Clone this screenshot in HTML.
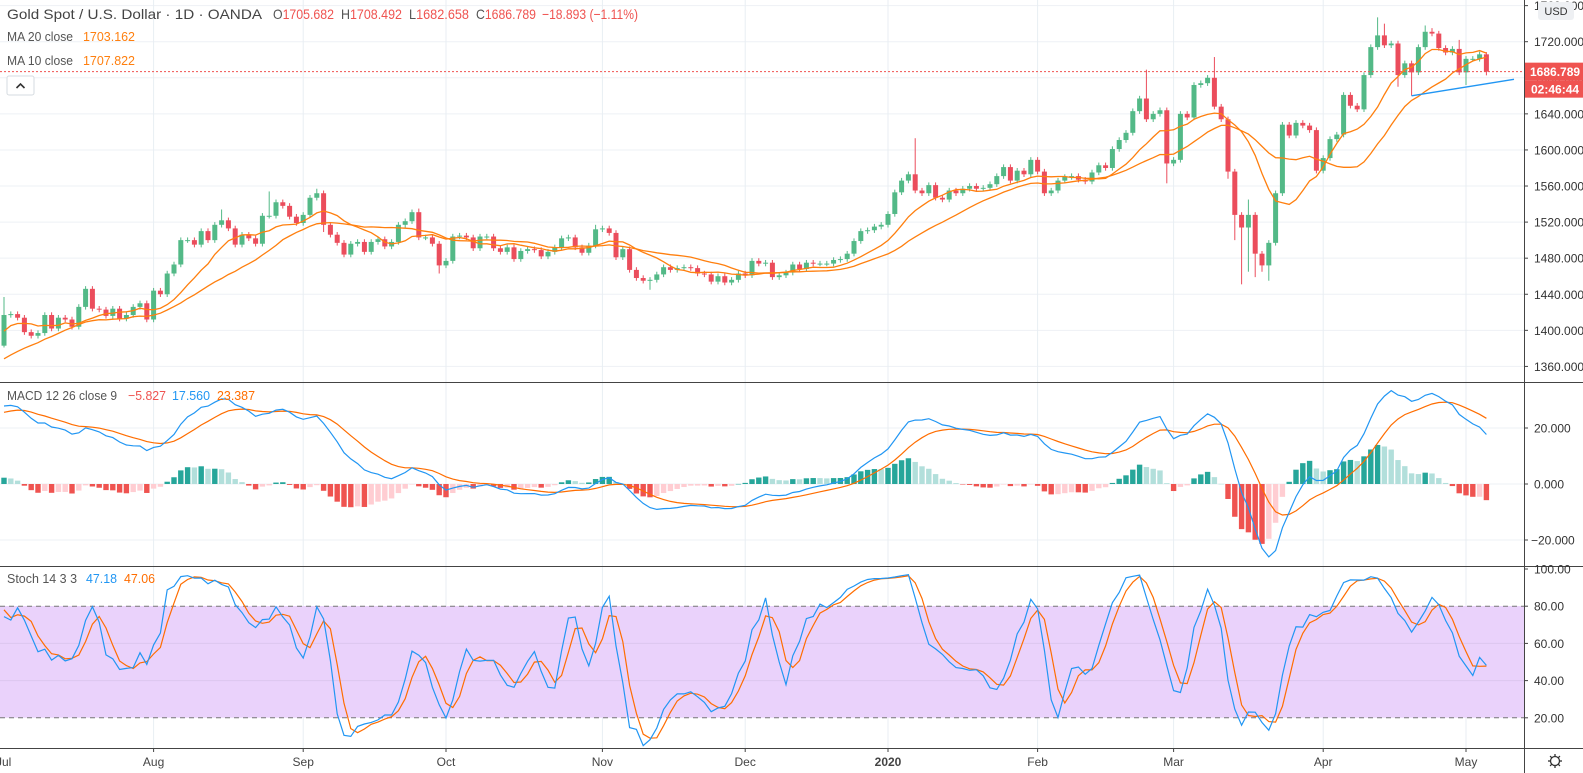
<!DOCTYPE html>
<html><head><meta charset="utf-8"><style>
html,body{margin:0;padding:0;background:#fff;}
svg{display:block;font-family:"Liberation Sans",sans-serif;}
</style></head><body>
<svg id="chart" width="1583" height="773" viewBox="0 0 1583 773" xmlns="http://www.w3.org/2000/svg">
<rect x="0" y="0" width="1583" height="773" fill="#fff"/>
<g id="grid"></g>
<rect x="0" y="606" width="1524" height="111.7" fill="#ead2fb"/>
<g id="stochGrid"></g>
<g id="candles"></g>
<g id="mas"></g>
<g id="macd"></g>
<g id="stoch"></g>
<g id="axes"></g>
<g font-size="14">
<text x="7" y="19" fill="#444" textLength="255" lengthAdjust="spacingAndGlyphs">Gold Spot / U.S. Dollar · 1D · OANDA</text>
<text x="273" y="19" fill="#555" textLength="61" lengthAdjust="spacingAndGlyphs">O<tspan fill="#ef5350">1705.682</tspan></text>
<text x="341" y="19" fill="#555" textLength="61" lengthAdjust="spacingAndGlyphs">H<tspan fill="#ef5350">1708.492</tspan></text>
<text x="409" y="19" fill="#555" textLength="60" lengthAdjust="spacingAndGlyphs">L<tspan fill="#ef5350">1682.658</tspan></text>
<text x="476" y="19" fill="#555" textLength="60" lengthAdjust="spacingAndGlyphs">C<tspan fill="#ef5350">1686.789</tspan></text>
<text x="542" y="19" fill="#ef5350" textLength="96" lengthAdjust="spacingAndGlyphs">−18.893 (−1.11%)</text>
</g>
<text x="7" y="41" font-size="13" fill="#555" textLength="66" lengthAdjust="spacingAndGlyphs">MA 20 close</text>
<text x="83" y="41" font-size="13" fill="#ff7f0e" textLength="52" lengthAdjust="spacingAndGlyphs">1703.162</text>
<text x="7" y="65" font-size="13" fill="#555" textLength="66" lengthAdjust="spacingAndGlyphs">MA 10 close</text>
<text x="83" y="65" font-size="13" fill="#ff7f0e" textLength="52" lengthAdjust="spacingAndGlyphs">1707.822</text>
<g><rect x="7" y="76" width="27" height="19" rx="2" fill="#fff" stroke="#d6dbe0"/><path d="M16.5 88 L20.5 84 L24.5 88" fill="none" stroke="#333" stroke-width="1.6"/></g>
<g font-size="13">
<text x="7" y="400" fill="#555" textLength="110" lengthAdjust="spacingAndGlyphs">MACD 12 26 close 9</text>
<text x="128" y="400" fill="#ef5350" textLength="38" lengthAdjust="spacingAndGlyphs">−5.827</text>
<text x="172" y="400" fill="#2196f3" textLength="38" lengthAdjust="spacingAndGlyphs">17.560</text>
<text x="217" y="400" fill="#ff6d00" textLength="38" lengthAdjust="spacingAndGlyphs">23.387</text>
</g>
<g font-size="13">
<text x="7" y="583" fill="#555" textLength="70" lengthAdjust="spacingAndGlyphs">Stoch 14 3 3</text>
<text x="86" y="583" fill="#2196f3" textLength="31" lengthAdjust="spacingAndGlyphs">47.18</text>
<text x="124" y="583" fill="#ff6d00" textLength="31" lengthAdjust="spacingAndGlyphs">47.06</text>
</g>
</svg>
<script>
const warm = [1284,1281,1277,1273,1279,1286,1282,1276,1274,1271,1276,1283,1279,1281,1285,1284,1288,1283,1295,1297,1296,1285,1276,1283,1283,1285,1282,1286,1295,1305,1324,1333,1335,1328,1332,1338,1339,1342,1345,1342,1344,1358,1390,1397,1400,1420,1410,1405,1410,1385];
const closes = [1417,1418,1414,1398,1394,1397,1417,1402,1414,1412,1404,1426,1446,1424,1423,1416,1424,1413,1417,1426,1430,1412,1444,1440,1463,1473,1500,1500,1495,1510,1500,1517,1522,1513,1495,1506,1502,1496,1527,1527,1542,1538,1526,1519,1528,1547,1552,1517,1506,1497,1484,1496,1498,1487,1498,1501,1493,1498,1517,1521,1531,1503,1503,1496,1472,1477,1504,1505,1503,1491,1504,1504,1491,1487,1492,1479,1488,1490,1489,1482,1487,1492,1502,1503,1492,1486,1494,1512,1513,1508,1481,1490,1467,1458,1455,1456,1462,1470,1467,1469,1470,1469,1463,1462,1454,1460,1453,1456,1463,1461,1477,1474,1475,1459,1461,1464,1473,1468,1475,1474,1474,1474,1478,1479,1485,1499,1510,1511,1515,1517,1529,1553,1566,1573,1555,1552,1561,1547,1545,1555,1552,1557,1560,1557,1558,1562,1571,1581,1566,1577,1573,1589,1576,1552,1555,1566,1570,1571,1567,1565,1575,1583,1580,1601,1611,1619,1643,1657,1634,1640,1644,1585,1589,1640,1636,1672,1674,1680,1648,1634,1576,1528,1514,1528,1485,1472,1497,1552,1628,1616,1630,1627,1622,1577,1591,1612,1617,1661,1649,1645,1683,1714,1727,1716,1718,1683,1696,1686,1714,1731,1729,1713,1708,1712,1686,1701,1701,1706,1686.789];
const firstOpen = 1383;
const highOverrides = {0:1437,32:1534,39:1554,46:1557,61:1535,87:1517,134:1613,168:1689,178:1703,183:1545,202:1747,203:1740,209:1738,210:1735,214:1722,218:1708.5};
const lowOverrides = {0:1381,47:1509,64:1463,95:1445,171:1563,180:1568,181:1500,182:1451,183:1465,184:1459,185:1465,186:1455,205:1670,207:1660,215:1672,218:1682.7};
const monthLabels = ["Aug","Sep","Oct","Nov","Dec","2020","Feb","Mar","Apr","May"];
const monthIdx = [22,44,65,88,109,130,152,172,194,215];
const priceTicks = [1360,1400,1440,1480,1520,1560,1600,1640,1680,1720,1760];
const macdTicks = [20,0,-20];
const stochTicks = [100,80,60,40,20];

const NS="http://www.w3.org/2000/svg";
function mk(tag,attrs,parent){const e=document.createElementNS(NS,tag);for(const k in attrs)e.setAttribute(k,attrs[k]);parent.appendChild(e);return e;}
const AX=1524;
const xOf=i=>4+i*6.8;
const yP=p=>41.7+(1720-p)*0.902;
const yM=v=>484-v*2.8;
const yS=v=>755-v*1.86;

const all=warm.concat(closes);
const W=warm.length;
const opensAll=all.map((c,i)=>i===0?c:all[i-1]);
opensAll[W]=firstOpen;
const hiAll=all.map((c,i)=>{const d=i-W; if(d>=0&&highOverrides[d]!==undefined)return highOverrides[d]; return Math.max(c,opensAll[i])+3;});
const loAll=all.map((c,i)=>{const d=i-W; if(d>=0&&lowOverrides[d]!==undefined)return lowOverrides[d]; return Math.min(c,opensAll[i])-3;});

const grid=document.getElementById('grid');
priceTicks.forEach(p=>{const l=mk('line',{x1:0,x2:AX,y1:yP(p),y2:yP(p),stroke:'#eef1f5','stroke-width':1},grid);

});
macdTicks.forEach(v=>{const l=mk('line',{x1:0,x2:AX,y1:yM(v),y2:yM(v),stroke:'#eef1f5'},grid);

});
monthIdx.forEach(i=>{const l=mk('line',{x1:xOf(i),x2:xOf(i),y1:0,y2:748,stroke:'#e8eef3'},grid);

});
const sg=document.getElementById('stochGrid');
[60,40].forEach(v=>{const l=mk('line',{x1:0,x2:AX,y1:yS(v),y2:yS(v),stroke:'#dcc6ee'},sg);

});
[80,20].forEach(v=>{const l=mk('line',{x1:0,x2:AX,y1:yS(v),y2:yS(v),stroke:'#777','stroke-dasharray':'5,4'},sg);

});

const cg=document.getElementById('candles');
closes.forEach((c,i)=>{const k=W+i;const o=opensAll[k];const up=c>=o;const col=up?'#53b987':'#eb4d5c';const x=xOf(i);
const w=mk('line',{x1:x,x2:x,y1:yP(hiAll[k]),y2:yP(loAll[k]),stroke:col,'stroke-width':1},cg);


const top=yP(Math.max(o,c)),bot=yP(Math.min(o,c));
const r=mk('rect',{x:x-2.5,y:top,width:5,height:Math.max(1,bot-top),fill:col},cg);

});

function sma(arr,n){return arr.map((v,i)=>{if(i<n-1)return null;let s=0;for(let j=i-n+1;j<=i;j++)s+=arr[j];return s/n;});}
const mg=document.getElementById('mas');
[[20,'ma20-line'],[10,'ma10-line']].forEach(([n,name])=>{const m=sma(all,n);let d='';closes.forEach((c,i)=>{d+=(i?'L':'M')+xOf(i).toFixed(1)+' '+yP(m[W+i]).toFixed(1);});
const p=mk('path',{d:d,fill:'none',stroke:'#ff7f0e','stroke-width':1.3},mg);

});

const pl=mk('line',{x1:0,x2:AX,y1:yP(closes[closes.length-1]),y2:yP(closes[closes.length-1]),stroke:'#ef5350','stroke-dasharray':'2,2'},mg);


const tl=mk('line',{x1:xOf(207),y1:yP(1660),x2:1514,y2:79.3,stroke:'#2196f3','stroke-width':1.3},mg);



function ema(arr,n){const a=2/(n+1);const out=[];arr.forEach((v,i)=>{out.push(i===0?v:out[i-1]+a*(v-out[i-1]));});return out;}
const e12=ema(all,12),e26=ema(all,26);
const macd=all.map((v,i)=>e12[i]-e26[i]);
const sig=ema(macd,9);
const hist=macd.map((v,i)=>v-sig[i]);
const mgp=document.getElementById('macd');
closes.forEach((c,i)=>{const k=W+i;const h=hist[k],ph=hist[k-1];let col;
if(h>=0)col=h>ph?'#26a69a':'#b2dfdb';else col=h<ph?'#ef5350':'#ffcdd2';
const y0=yM(0),y1=yM(h);
const r=mk('rect',{x:xOf(i)-2.7,y:Math.min(y0,y1),width:5.4,height:Math.max(0.5,Math.abs(y1-y0)),fill:col},mgp);

});
[[sig,'#ff6d00','macd-signal-line'],[macd,'#2196f3','macd-line']].forEach(([arr,col,name])=>{let d='';closes.forEach((c,i)=>{d+=(i?'L':'M')+xOf(i).toFixed(1)+' '+yM(arr[W+i]).toFixed(1);});
const p=mk('path',{d:d,fill:'none',stroke:col,'stroke-width':1.2},mgp);

});

const raw=all.map((c,i)=>{if(i<13)return 50;let hh=-1e9,ll=1e9;for(let j=i-13;j<=i;j++){hh=Math.max(hh,hiAll[j]);ll=Math.min(ll,loAll[j]);}return hh===ll?50:100*(c-ll)/(hh-ll);});
const kk=sma(raw,3).map(v=>v===null?50:v);
const dd=sma(kk,3).map(v=>v===null?50:v);
const sgp=document.getElementById('stoch');
[[dd,'#ff6d00','stoch-d-line'],[kk,'#2196f3','stoch-k-line']].forEach(([arr,col,name])=>{let d='';closes.forEach((c,i)=>{d+=(i?'L':'M')+xOf(i).toFixed(1)+' '+yS(arr[W+i]).toFixed(1);});
const p=mk('path',{d:d,fill:'none',stroke:col,'stroke-width':1.2},sgp);

});

const ax=document.getElementById('axes');
mk('rect',{x:AX,y:0,width:59,height:773,fill:'#fff'},ax);
mk('rect',{x:0,y:748,width:1583,height:25,fill:'#fff'},ax);
mk('line',{x1:AX+0.5,x2:AX+0.5,y1:0,y2:773,stroke:'#444'},ax);
[382,566,748].forEach(y=>{const l=mk('line',{x1:0,x2:1583,y1:y+0.5,y2:y+0.5,stroke:'#444'},ax);

});
priceTicks.forEach(p=>{const y=yP(p);if(y<0)return;mk('line',{x1:AX,x2:AX+4,y1:y,y2:y,stroke:'#444'},ax);
const t=mk('text',{x:AX+10,y:y+4.5,'font-size':12,fill:'#333'},ax);t.textContent=p.toFixed(3);

});
macdTicks.forEach(v=>{const y=yM(v);mk('line',{x1:AX,x2:AX+4,y1:y,y2:y,stroke:'#444'},ax);
const t=mk('text',{x:AX+(v<0?7:10),y:y+4.5,'font-size':12,fill:'#333'},ax);t.textContent=(v<0?'−':'')+Math.abs(v).toFixed(3);

});
stochTicks.forEach(v=>{const y=yS(v);mk('line',{x1:AX,x2:AX+4,y1:y,y2:y,stroke:'#444'},ax);
const t=mk('text',{x:AX+10,y:y+4.5,'font-size':12,fill:'#333'},ax);t.textContent=v.toFixed(2);

});
const ul=mk('text',{x:-4,y:766,'font-size':12,fill:'#444'},ax);ul.textContent='Jul';


monthIdx.forEach((idx,i)=>{const x=xOf(idx);mk('line',{x1:x,x2:x,y1:748,y2:752,stroke:'#444'},ax);
const t=mk('text',{x:x,y:766,'font-size':12,fill:'#444','text-anchor':'middle','font-weight':monthLabels[i]==='2020'?'bold':'normal'},ax);t.textContent=monthLabels[i];

});
const ly=yP(closes[closes.length-1]);
const lb=mk('rect',{x:AX+1,y:ly-9,width:58,height:18,fill:'#ef5350'},ax);


const lt=mk('text',{x:AX+6,y:ly+4.5,'font-size':12,'font-weight':'bold',fill:'#fff'},ax);lt.textContent='1686.789';


const cb=mk('rect',{x:AX+1,y:ly+9,width:58,height:17,fill:'#ef5350'},ax);


const ct=mk('text',{x:AX+7,y:ly+22,'font-size':12,'font-weight':'bold',fill:'#fff'},ax);ct.textContent='02:46:44';


const ub=mk('rect',{x:1538,y:2,width:36,height:18,rx:3,fill:'#eef0f3'},ax);


const ut=mk('text',{x:1556,y:15,'font-size':11,fill:'#333','text-anchor':'middle'},ax);ut.textContent='USD';


const gear=mk('g',{},ax);


mk('circle',{cx:1555,cy:761,r:4.5,fill:'none',stroke:'#333','stroke-width':1.3},gear);
for(let a=0;a<8;a++){const ang=a*Math.PI/4;mk('line',{x1:1555+Math.cos(ang)*4.5,y1:761+Math.sin(ang)*4.5,x2:1555+Math.cos(ang)*7,y2:761+Math.sin(ang)*7,stroke:'#333','stroke-width':1.3},gear);}
</script>
</body></html>
